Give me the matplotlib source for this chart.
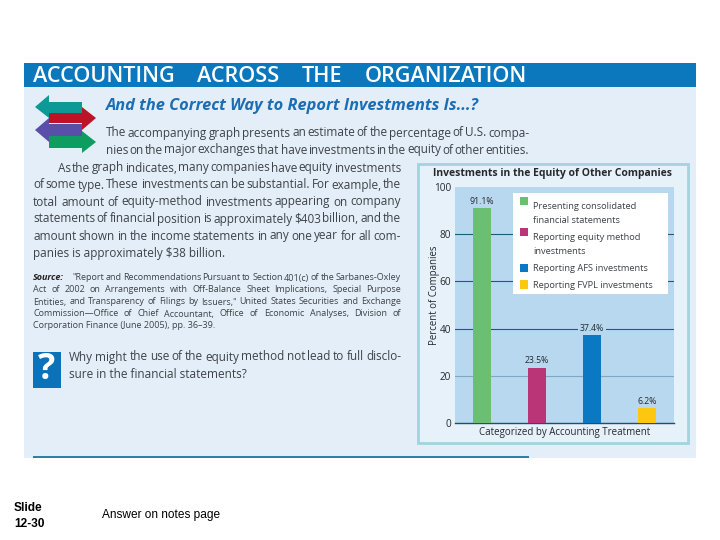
import matplotlib
matplotlib.use('Agg')
import matplotlib.pyplot as plt
from matplotlib.legend_handler import HandlerPatch
from matplotlib.patches import Polygon, Rectangle

plt.rcParams['font.family'] = ['Open Sans', 'DejaVu Sans']

# chart data
categories = ['Presenting consolidated\nfinancial statements',
              'Reporting equity method\ninvestments',
              'Reporting AFS investments',
              'Reporting FVPL investments']
percents = [91.1, 23.5, 37.4, 6.2]
bar_colors = ['#6abf73', '#b93578', '#0a78c2', '#fcc80f']
yticks = [0, 20, 40, 60, 80, 100]

# page text
intro = ['The accompanying graph presents an estimate of the percentage of U.S. compa-',
         'nies on the major exchanges that have investments in the equity of other entities.']
body = ['As the graph indicates, many companies have equity investments',
        'of some type. These investments can be substantial. For example, the',
        'total amount of equity-method investments appearing on company',
        'statements of financial position is approximately $403 billion, and the',
        'amount shown in the income statements in any one year for all com-']
source = ['"Report and Recommendations Pursuant to Section 401(c) of the Sarbanes-Oxley',
          'Act of 2002 on Arrangements with Off-Balance Sheet Implications, Special Purpose',
          'Entities, and Transparency of Filings by Issuers," United States Securities and Exchange',
          'Commission\u2014Office of Chief Accountant, Office of Economic Analyses, Division of']

TEXT = '#3d4248'
PANEL = '#e4eef8'
BODY_SIZE = 8.5
SOURCE_SIZE = 6.5

fig = plt.figure(figsize=(7.2, 5.4), dpi=100, facecolor='white')

# full page axes in pixel coordinates for the textbook scan
page = fig.add_axes([0, 0, 1, 1], zorder=0)
page.set_xlim(0, 720)
page.set_ylim(540, 0)
page.axis('off')
renderer = fig.canvas.get_renderer()


def fit_line(line, x0, x1, y, size, color=TEXT, **kw):
    # spread the words so a line fills x0..x1, like justified print
    words = line.split(' ')
    widths = []
    for w in words:
        t = page.text(0, 0, w, fontsize=size, **kw)
        widths.append(t.get_window_extent(renderer).width)
        t.remove()
    gap = (x1 - x0 - sum(widths)) / max(len(words) - 1, 1)
    x = x0
    for w, width in zip(words, widths):
        page.text(x, y, w, fontsize=size, va='center', ha='left', color=color, **kw)
        x += width + gap


page.add_patch(Rectangle((24, 87), 672, 371, fc=PANEL, ec='none'))
page.add_patch(Rectangle((24, 63), 672, 24, fc='#0b78bd', ec='none'))
page.add_patch(Rectangle((33, 456), 496, 2, fc='#2f7fae', ec='none'))
fit_line('ACCOUNTING ACROSS THE ORGANIZATION', 33, 527, 76, 15.6, color='white', fontweight='semibold')

# arrow logo
arrows = [('#0d9a96', [(35, 107), (49, 95), (49, 102), (82, 102), (82, 113), (49, 113), (49, 118)]),
          ('#bd1328', [(96, 118), (82, 107), (82, 113), (49, 113), (49, 123), (82, 123), (82, 130)]),
          ('#5a4fa8', [(35, 130), (49, 118), (49, 124), (82, 124), (82, 136), (49, 136), (49, 142)]),
          ('#0f9c60', [(96, 142), (82, 131), (82, 136), (49, 136), (49, 148), (82, 148), (82, 153)])]
for color, pts in arrows:
    page.add_patch(Polygon(pts, closed=True, fc=color, ec='none'))

page.text(106, 106.5, 'And the Correct Way to Report Investments Is...?', fontsize=11.8,
          fontweight='bold', style='italic', color='#1c6db4', va='center')

for line, y in zip(intro, [133, 150]):
    fit_line(line, 106, 529, y, BODY_SIZE)
fit_line(body[0], 58, 401, 168, BODY_SIZE)
for line, y in zip(body[1:], [185, 202, 219, 236]):
    fit_line(line, 33, 401, y, BODY_SIZE)
page.text(33, 254, 'panies is approximately $38 billion.', fontsize=BODY_SIZE, color=TEXT, va='center')

page.text(33, 278, 'Source:', fontsize=SOURCE_SIZE, fontweight='bold', style='italic', color='#222222', va='center')
fit_line(source[0], 72, 401, 278, SOURCE_SIZE)
for line, y in zip(source[1:], [290, 302, 314]):
    fit_line(line, 33, 401, y, SOURCE_SIZE)
page.text(33, 326, 'Corporation Finance (June 2005), pp. 36\u201339.', fontsize=SOURCE_SIZE, color=TEXT, va='center')

page.add_patch(Rectangle((33, 352), 28, 36, fc='#0b72b9', ec='none'))
page.text(47, 370, '?', fontsize=26, fontweight='bold', color='white', ha='center', va='center')
fit_line('Why might the use of the equity method not lead to full disclo-', 69, 401, 357, BODY_SIZE)
page.text(69, 374, 'sure in the financial statements?', fontsize=BODY_SIZE, color=TEXT, va='center')

# slide furniture
page.text(14, 508, 'Slide', fontsize=8.6, fontweight='bold', family='Liberation Sans', color='black', va='center')
page.text(14, 524, '12-30', fontsize=8.6, fontweight='bold', family='Liberation Sans', color='black', va='center')
page.text(102, 515, 'Answer on notes page', fontsize=8.6, family='Liberation Sans', color='black', va='center')

# chart box
page.add_patch(Rectangle((418, 164), 270, 279, fc='#e6f1fa', ec='#a4d3dd', lw=2))
page.text(552.5, 173.5, 'Investments in the Equity of Other Companies', fontsize=7.45,
          fontweight='bold', color='#26292c', ha='center', va='center')

ax = fig.add_axes([455 / 720, 1 - 423 / 540, 219 / 720, 236 / 540], zorder=1)
ax.set_facecolor('#b8d8f0')
x = range(len(percents))
bars = ax.bar(x, percents, width=0.33, color=bar_colors, zorder=3)
ax.set_xlim(-0.49, 3.49)
ax.set_ylim(0, 100)
ax.set_yticks(yticks)
ax.set_xticks([])
ax.tick_params(axis='y', length=0, labelsize=7.2, labelcolor='#26292c', pad=3)
for tick in yticks[1:-1]:
    ax.axhline(tick, color='#7ea9c4' if tick == 20 else '#1f5b7c', lw=0.8, zorder=1)
for side in ['top', 'right', 'left']:
    ax.spines[side].set_visible(False)
ax.spines['bottom'].set_color('#1f4f6c')
ax.spines['bottom'].set_linewidth(1)
ax.set_ylabel('Percent of Companies', fontsize=6.9, color='#26292c')
ax.yaxis.set_label_coords(-0.07, 0.54)
ax.set_xlabel('Categorized by Accounting Treatment', fontsize=7.0, color='#26292c', labelpad=3)
ax.bar_label(bars, labels=['%.1f%%' % p for p in percents], fontsize=6.3, color='#26292c', padding=1.5,
             bbox=dict(fc='#b8d8f0', ec='none', pad=1.2), zorder=4)


def first_line_swatch(legend, orig_handle, xdescent, ydescent, width, height, fontsize):
    # two line labels sit on their last line, so lift the swatch to the first one
    return Rectangle((-xdescent, -ydescent + 9), width, height)


def one_line_swatch(legend, orig_handle, xdescent, ydescent, width, height, fontsize):
    return Rectangle((-xdescent, -ydescent), width, height)


# white backing for the legend, wider than its text
ax.add_patch(Rectangle((58 / 219, 129 / 236), 155 / 219, 101 / 236, transform=ax.transAxes,
                       fc='white', ec='none', zorder=4.5))

handles = [Rectangle((0, 0), 1, 1, fc=c, ec='none') for c in bar_colors]
handler_map = {h: HandlerPatch(patch_func=first_line_swatch if '\n' in label else one_line_swatch)
               for h, label in zip(handles, categories)}
leg = ax.legend(handles, categories, handler_map=handler_map, loc='upper left',
                bbox_to_anchor=(58 / 219, 228 / 236), borderaxespad=0, fontsize=6.7,
                frameon=False, handlelength=0.95, handleheight=1.0, handletextpad=0.55,
                labelspacing=0.8, borderpad=0.7, labelcolor='#3d4248')
for t in leg.get_texts():
    t.set_linespacing(1.8)
leg.set_zorder(5)

fig.savefig('out.png', dpi=100)
